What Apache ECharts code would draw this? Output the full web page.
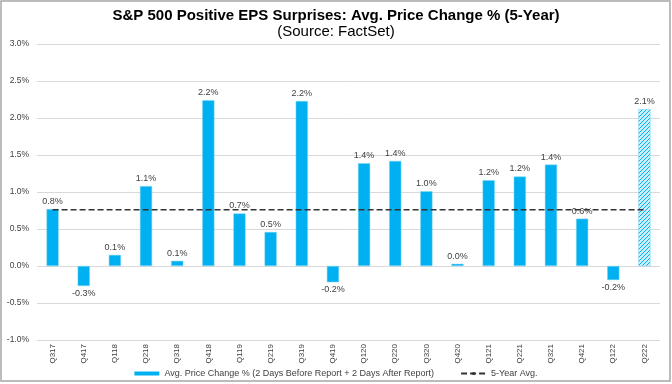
<!DOCTYPE html>
<html>
<head>
<meta charset="utf-8">
<script src="https://cdn.jsdelivr.net/npm/echarts@6/dist/echarts.min.js"></script>
<style>
html,body{margin:0;padding:0;background:#fff;}
#c{width:672px;height:384px;}
</style>
</head>
<body>
<div id="c"></div>
<script>
const categories = ['Q317','Q417','Q118','Q218','Q318','Q418','Q119','Q219','Q319','Q419','Q120','Q220','Q320','Q420','Q121','Q221','Q321','Q421','Q122','Q222'];
const priceChange = [0.77,-0.27,0.15,1.08,0.07,2.24,0.71,0.46,2.23,-0.22,1.39,1.42,1.01,0.03,1.16,1.21,1.37,0.64,-0.19,2.12];
const fiveYearAvg = 0.76;
const yTicks = {min:-1, max:3, interval:0.5};
const hatchedIndex = 19;

const pc = document.createElement('canvas');
pc.width = 4; pc.height = 4;
const g = pc.getContext('2d');
g.fillStyle = '#c9eefc'; g.fillRect(0,0,4,4);
g.strokeStyle = '#00b0f0'; g.lineWidth = 1;
g.beginPath(); g.moveTo(0,4); g.lineTo(4,0); g.moveTo(-1,1); g.lineTo(1,-1); g.moveTo(3,5); g.lineTo(5,3); g.stroke();

const barColor = '#00b0f0';
const barData = priceChange.map((v,i)=>({
  value: v,
  itemStyle: i===hatchedIndex ? {color:{image:pc, repeat:'repeat'}} : undefined,
  label: {position: v < 0 ? 'bottom' : 'top'}
}));

const chart = echarts.init(document.getElementById('c'));
chart.setOption({
  animation:false,
  title:{
    text:'S&P 500 Positive EPS Surprises: Avg. Price Change % (5-Year)',
    subtext:'(Source: FactSet)',
    left:'center', top:3, itemGap:1,
    textStyle:{fontFamily:'Liberation Sans', fontSize:15, fontWeight:'bold', color:'#000'},
    subtextStyle:{fontFamily:'Liberation Sans', fontSize:15, color:'#000'}
  },
  graphic:[{type:'rect', shape:{x:1,y:1,width:669,height:380}, style:{fill:'none', stroke:'#a6a6a6', lineWidth:1.5}, silent:true}],
  legend:{
    left:'center', top:364, itemGap:26, itemWidth:25, itemHeight:4,
    textStyle:{fontFamily:'Liberation Sans', fontSize:9, color:'#404040'},
    data:[
      {name:'Avg. Price Change % (2 Days Before Report + 2 Days After Report)', icon:'rect', itemStyle:{borderWidth:0}},
      {name:'5-Year Avg.'}
    ]
  },
  grid:{left:37, right:12, top:44, bottom:44},
  xAxis:{
    type:'category', data:categories,
    axisLine:{show:false}, axisTick:{show:false},
    axisLabel:{rotate:90, fontSize:8, color:'#404040', fontFamily:'Liberation Sans', margin:4, interval:0}
  },
  yAxis:{
    type:'value', min:yTicks.min, max:yTicks.max, interval:yTicks.interval,
    axisLine:{show:false}, axisTick:{show:false},
    splitLine:{lineStyle:{color:'#d9d9d9', width:1}},
    axisLabel:{fontSize:8.5, color:'#404040', fontFamily:'Liberation Sans', margin:8,
      formatter:v=>v.toFixed(1)+'%'}
  },
  series:[
    {
      name:'Avg. Price Change % (2 Days Before Report + 2 Days After Report)',
      type:'bar', data:barData, barWidth:'39%',
      itemStyle:{color:barColor, borderColor:'#7fd6f7', borderWidth:0.5},
      label:{show:true, distance:3, fontSize:9, color:'#404040', fontFamily:'Liberation Sans',
        formatter:p=>p.value.toFixed(1)+'%'},
      z:2
    },
    {
      name:'5-Year Avg.', type:'line',
      data:categories.map(()=>fiveYearAvg),
      symbol:'none', silent:true,
      lineStyle:{color:'#333', width:1.6, type:[6,3]},
      itemStyle:{color:'#333'},
      z:3
    }
  ]
});
</script>
</body>
</html>
